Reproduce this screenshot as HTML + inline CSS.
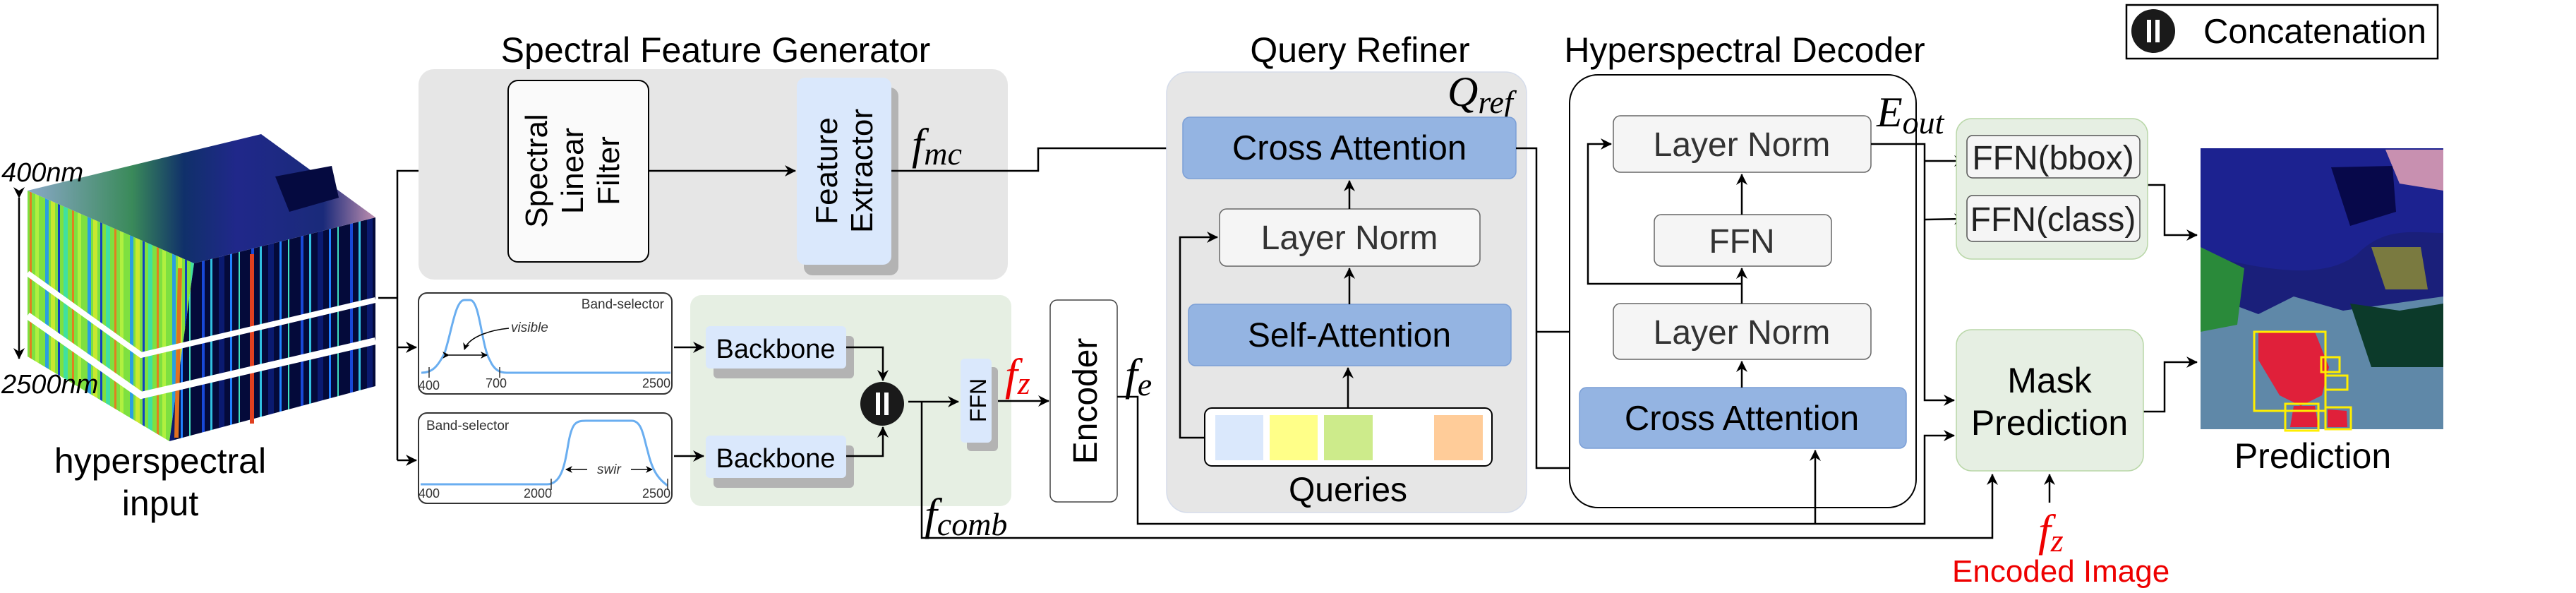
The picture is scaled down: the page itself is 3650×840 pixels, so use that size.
<!DOCTYPE html>
<html><head><meta charset="utf-8"><style>
html,body{margin:0;padding:0;background:#fff;}
svg{display:block;}
text{font-family:"Liberation Sans",sans-serif;}
.s{font-family:"Liberation Serif",serif;font-style:italic;}
</style></head><body>
<svg width="3650" height="840" viewBox="0 0 3650 840" xmlns="http://www.w3.org/2000/svg">
<defs>
<marker id="a" markerWidth="10" markerHeight="10" refX="9" refY="5" orient="auto" markerUnits="userSpaceOnUse"><path d="M0,0 L10,5 L0,10 L3,5 z" fill="#000"/></marker>
<marker id="a2" markerWidth="16" markerHeight="16" refX="15" refY="8" orient="auto" markerUnits="userSpaceOnUse"><path d="M0,0 L16,8 L0,16 L5,8 z" fill="#000"/></marker>
<pattern id="lf" width="60" height="10" patternUnits="userSpaceOnUse">
<rect width="60" height="10" fill="#7ee040"/><rect x="4" width="5" height="10" fill="#2a9fe0"/><rect x="12" width="6" height="10" fill="#c8e830"/><rect x="22" width="3" height="10" fill="#1040c0"/><rect x="30" width="6" height="10" fill="#40e0a0"/><rect x="42" width="3" height="10" fill="#e08020"/><rect x="50" width="5" height="10" fill="#b0f040"/></pattern>
<pattern id="rf" width="70" height="10" patternUnits="userSpaceOnUse">
<rect width="70" height="10" fill="#040a3a"/><rect x="6" width="4" height="10" fill="#1848d8"/><rect x="18" width="3" height="10" fill="#30c0e0"/><rect x="30" width="8" height="10" fill="#0a1a70"/><rect x="46" width="3" height="10" fill="#2080ff"/><rect x="58" width="2" height="10" fill="#40e0c0"/></pattern>
<linearGradient id="tf" x1="0" y1="0" x2="1" y2="0"><stop offset="0" stop-color="#8aa8c8"/><stop offset="0.3" stop-color="#3a8a5a"/><stop offset="0.45" stop-color="#10306a"/><stop offset="0.6" stop-color="#20288a"/><stop offset="0.85" stop-color="#1a2a7a"/><stop offset="1" stop-color="#c090b0"/></linearGradient>
</defs>

<!-- cube -->
<polygon points="39,270 275,373 240,625 39,505" fill="url(#lf)"/>
<polygon points="275,373 532,308 532,547 240,625" fill="url(#rf)"/>
<line x1="357" y1="360" x2="357" y2="600" stroke="#e04020" stroke-width="6"/>
<line x1="255" y1="380" x2="250" y2="620" stroke="#e07020" stroke-width="6"/>
<polygon points="39,270 370,190 532,308 275,373" fill="url(#tf)"/>
<polygon points="390,250 470,235 480,280 410,300" fill="#050a40"/>
<polyline points="39,387 200,503 532,425" fill="none" stroke="#fff" stroke-width="8"/>
<polyline points="39,447 200,560 532,483" fill="none" stroke="#fff" stroke-width="10"/>
<text x="2" y="257" font-size="38" font-style="italic">400nm</text>
<text x="2" y="557" font-size="38" font-style="italic">2500nm</text>
<line x1="27" y1="280" x2="27" y2="508" stroke="#000" stroke-width="2.5" marker-end="url(#a2)" marker-start="url(#a2)" />
<text x="227" y="670" font-size="50" text-anchor="middle">hyperspectral</text>
<text x="227" y="730" font-size="50" text-anchor="middle">input</text>

<!-- splitter -->
<g stroke="#000" stroke-width="2.5" fill="none">
<line x1="536" y1="422" x2="563" y2="422"/>
<polyline points="563,652 563,242 717,242" marker-end="url(#a2)"/>
<line x1="563" y1="492" x2="590" y2="492" marker-end="url(#a2)"/>
<line x1="563" y1="652" x2="590" y2="652" marker-end="url(#a2)"/>
</g>

<!-- titles -->
<text x="1014" y="88" font-size="50" text-anchor="middle">Spectral Feature Generator</text>
<text x="1927" y="88" font-size="50" text-anchor="middle">Query Refiner</text>
<text x="2472" y="88" font-size="50" text-anchor="middle">Hyperspectral Decoder</text>

<!-- SFG -->
<rect x="593" y="98" width="835" height="298" rx="22" fill="#e6e6e6"/>
<rect x="720" y="114" width="199" height="257" rx="14" fill="#fafafa" stroke="#000" stroke-width="2"/>
<text transform="translate(775,242) rotate(-90)" font-size="44" text-anchor="middle">Spectral</text>
<text transform="translate(826,242) rotate(-90)" font-size="44" text-anchor="middle">Linear</text>
<text transform="translate(877,242) rotate(-90)" font-size="44" text-anchor="middle">Filter</text>
<rect x="1139" y="124" width="134" height="266" rx="12" fill="#b3b3b3"/>
<rect x="1129" y="110" width="134" height="265" rx="12" fill="#dae8fc"/>
<text transform="translate(1186,242) rotate(-90)" font-size="44" text-anchor="middle">Feature</text>
<text transform="translate(1236,242) rotate(-90)" font-size="44" text-anchor="middle">Extractor</text>
<g stroke="#000" stroke-width="2.5" fill="none">
<line x1="919" y1="242" x2="1127" y2="242" marker-end="url(#a2)"/>
<polyline points="1263,242 1471,242 1471,210 1674,210" marker-end="url(#a2)"/>
</g>
<text class="s" x="1292" y="225" font-size="62">f<tspan font-size="46" dy="8">mc</tspan></text>

<!-- band selectors -->
<rect x="593" y="415" width="359" height="143" rx="12" fill="#fff" stroke="#333" stroke-width="2"/>
<path d="M597,528 C612,528 620,520 630,500 C640,470 645,425 658,425 L666,425 C680,425 682,490 694,510 C700,524 708,528 718,528 L950,528" fill="none" stroke="#6aaef0" stroke-width="3"/>
<g stroke="#333" stroke-width="1.5"><line x1="608" y1="520" x2="608" y2="535"/><line x1="708" y1="520" x2="708" y2="535"/></g>
<text x="941" y="437" font-size="19" text-anchor="end" fill="#333">Band-selector</text>
<text x="724" y="470" font-size="19" font-style="italic" fill="#333">visible</text>
<path d="M721,465 C700,467 665,475 658,495" fill="none" stroke="#000" stroke-width="1.5" marker-end="url(#a)"/>
<line x1="636" y1="503" x2="690" y2="503" stroke="#000" stroke-width="1.5" marker-end="url(#a)" marker-start="url(#a)"/>
<text x="593" y="552" font-size="18" fill="#333">400</text>
<text x="688" y="549" font-size="18" fill="#333">700</text>
<text x="950" y="549" font-size="18" text-anchor="end" fill="#333">2500</text>

<rect x="593" y="585" width="359" height="128" rx="12" fill="#fff" stroke="#333" stroke-width="2"/>
<path d="M596,686 L775,686 C795,686 800,660 805,630 C810,600 815,596 830,596 L895,596 C910,596 912,620 918,640 C925,670 935,680 946,688" fill="none" stroke="#6aaef0" stroke-width="3"/>
<g stroke="#333" stroke-width="1.5"><line x1="781" y1="678" x2="781" y2="694"/><line x1="946" y1="678" x2="946" y2="694"/></g>
<text x="604" y="609" font-size="19" fill="#333">Band-selector</text>
<text x="846" y="671" font-size="19" font-style="italic" fill="#333">swir</text>
<line x1="832" y1="665" x2="802" y2="665" stroke="#000" stroke-width="1.5" marker-end="url(#a)"/>
<line x1="894" y1="665" x2="924" y2="665" stroke="#000" stroke-width="1.5" marker-end="url(#a)"/>
<text x="593" y="705" font-size="18" fill="#333">400</text>
<text x="762" y="705" font-size="18" text-anchor="middle" fill="#333">2000</text>
<text x="950" y="705" font-size="18" text-anchor="end" fill="#333">2500</text>

<!-- green backbone region -->
<rect x="978" y="418" width="455" height="299" rx="16" fill="#e6efe3"/>
<rect x="1011" y="476" width="199" height="60" rx="6" fill="#b3b3b3"/>
<rect x="1000" y="462" width="199" height="60" rx="6" fill="#dae8fc"/>
<text x="1099" y="507" font-size="38" text-anchor="middle">Backbone</text>
<rect x="1011" y="631" width="199" height="60" rx="6" fill="#b3b3b3"/>
<rect x="1000" y="617" width="199" height="60" rx="6" fill="#dae8fc"/>
<text x="1099" y="662" font-size="38" text-anchor="middle">Backbone</text>
<g stroke="#000" stroke-width="2.5" fill="none">
<line x1="955" y1="492" x2="997" y2="492" marker-end="url(#a2)"/>
<line x1="955" y1="646" x2="997" y2="646" marker-end="url(#a2)"/>
<polyline points="1199,492 1251,492 1251,539" marker-end="url(#a2)"/>
<polyline points="1199,646 1251,646 1251,605" marker-end="url(#a2)"/>
<line x1="1287" y1="569" x2="1358" y2="569" marker-end="url(#a2)"/>
<polyline points="1306,569 1306,762 2823,762 2823,672" marker-end="url(#a2)"/>
<line x1="1405" y1="568" x2="1486" y2="568" marker-end="url(#a2)"/>
</g>
<circle cx="1250" cy="572" r="31" fill="#1a1a1a"/>
<rect x="1241" y="556" width="6" height="32" fill="#fff"/><rect x="1253" y="556" width="6" height="32" fill="#fff"/>
<rect x="1370" y="520" width="44" height="119" rx="6" fill="#b3b3b3"/>
<rect x="1361" y="508" width="44" height="119" rx="6" fill="#dae8fc"/>
<text transform="translate(1397,567) rotate(-90)" font-size="32" text-anchor="middle">FFN</text>
<text class="s" x="1424" y="552" font-size="64" fill="#e00">f<tspan font-size="46" dy="6">z</tspan></text>
<text class="s" x="1310" y="750" font-size="64">f<tspan font-size="46" dy="8">comb</tspan></text>

<!-- encoder -->
<rect x="1488" y="425" width="95" height="286" rx="10" fill="#fff" stroke="#444" stroke-width="1.5"/>
<text transform="translate(1554,568) rotate(-90)" font-size="48" text-anchor="middle">Encoder</text>
<text class="s" x="1594" y="552" font-size="64">f<tspan font-size="46" dy="8">e</tspan></text>

<!-- Query refiner -->
<rect x="1653" y="102" width="510" height="624" rx="30" fill="#e6e6e6" stroke="#d5dcea" stroke-width="1.5"/>
<text class="s" x="2051" y="150" font-size="60">Q<tspan font-size="46" dy="10">ref</tspan></text>
<rect x="1676" y="166" width="472" height="87" rx="10" fill="#94b4e2" stroke="#7b9fd6" stroke-width="1.5"/>
<text x="1912" y="226" font-size="49" text-anchor="middle">Cross Attention</text>
<rect x="1728" y="296" width="369" height="81" rx="10" fill="#f5f5f5" stroke="#666" stroke-width="1.5"/>
<text x="1912" y="353" font-size="48" text-anchor="middle" fill="#333">Layer Norm</text>
<rect x="1684" y="431" width="457" height="87" rx="10" fill="#94b4e2" stroke="#7b9fd6" stroke-width="1.5"/>
<text x="1912" y="491" font-size="48" text-anchor="middle">Self-Attention</text>
<rect x="1707" y="578" width="407" height="82" rx="10" fill="#fff" stroke="#000" stroke-width="2"/>
<rect x="1722" y="588" width="68" height="64" fill="#dae8fc"/>
<rect x="1799" y="588" width="68" height="64" fill="#ffff88"/>
<rect x="1876" y="588" width="69" height="64" fill="#cdeb8b"/>
<rect x="2032" y="588" width="69" height="64" fill="#ffcc99"/>
<text x="1910" y="710" font-size="48" text-anchor="middle">Queries</text>
<g stroke="#000" stroke-width="2.5" fill="none">
<line x1="1912" y1="296" x2="1912" y2="256" marker-end="url(#a2)"/>
<line x1="1912" y1="431" x2="1912" y2="380" marker-end="url(#a2)"/>
<line x1="1910" y1="578" x2="1910" y2="521" marker-end="url(#a2)"/>
<polyline points="1707,620 1672,620 1672,336 1725,336" marker-end="url(#a2)"/>
<polyline points="2148,210 2177,210 2177,663 2468,663 2468,638" marker-end="url(#a2)"/>
<line x1="2352" y1="663" x2="2352" y2="638" marker-end="url(#a2)"/>
<line x1="2177" y1="470" x2="2283" y2="470" marker-end="url(#a2)"/>
</g>

<!-- Decoder -->
<rect x="2224" y="106" width="491" height="613" rx="40" fill="#fff" stroke="#000" stroke-width="2"/>
<rect x="2286" y="164" width="365" height="80" rx="10" fill="#f5f5f5" stroke="#666" stroke-width="1.5"/>
<text x="2468" y="221" font-size="48" text-anchor="middle" fill="#333">Layer Norm</text>
<rect x="2344" y="304" width="251" height="73" rx="10" fill="#f5f5f5" stroke="#666" stroke-width="1.5"/>
<text x="2468" y="358" font-size="48" text-anchor="middle" fill="#333">FFN</text>
<rect x="2286" y="430" width="365" height="79" rx="10" fill="#f5f5f5" stroke="#666" stroke-width="1.5"/>
<text x="2468" y="487" font-size="48" text-anchor="middle" fill="#333">Layer Norm</text>
<rect x="2238" y="549" width="463" height="86" rx="10" fill="#94b4e2" stroke="#7b9fd6" stroke-width="1.5"/>
<text x="2468" y="609" font-size="49" text-anchor="middle">Cross Attention</text>
<text class="s" x="2659" y="179" font-size="60">E<tspan font-size="46" dy="10">out</tspan></text>
<g stroke="#000" stroke-width="2.5" fill="none">
<line x1="2468" y1="549" x2="2468" y2="512" marker-end="url(#a2)"/>
<line x1="2468" y1="430" x2="2468" y2="380" marker-end="url(#a2)"/>
<line x1="2468" y1="304" x2="2468" y2="247" marker-end="url(#a2)"/>
<polyline points="2468,402 2250,402 2250,204 2283,204" marker-end="url(#a2)"/>
<polyline points="2651,204 2727,204 2727,567 2769,567" marker-end="url(#a2)"/>
<line x1="2727" y1="228" x2="2784" y2="228" marker-end="url(#a2)"/>
<line x1="2727" y1="311" x2="2784" y2="310" marker-end="url(#a2)"/>
<polyline points="1583,562 1612,562 1612,742 2727,742 2727,617 2769,617" marker-end="url(#a2)"/>
<line x1="2572" y1="742" x2="2572" y2="638" marker-end="url(#a2)"/>
<line x1="2904" y1="712" x2="2904" y2="672" marker-end="url(#a2)"/>
<polyline points="3043,262 3067,262 3067,333 3113,333" marker-end="url(#a2)"/>
<polyline points="3037,583 3067,583 3067,513 3113,513" marker-end="url(#a2)"/>
</g>

<!-- FFN heads -->
<rect x="2772" y="168" width="271" height="199" rx="22" fill="#e6efe3" stroke="#b9d7a8" stroke-width="1.5"/>
<rect x="2787" y="192" width="245" height="60" rx="8" fill="#f5f5f5" stroke="#555" stroke-width="1.5"/>
<text x="2909" y="240" font-size="48" text-anchor="middle" fill="#222">FFN(bbox)</text>
<rect x="2787" y="277" width="245" height="65" rx="8" fill="#f5f5f5" stroke="#555" stroke-width="1.5"/>
<text x="2909" y="327" font-size="48" text-anchor="middle" fill="#222">FFN(class)</text>
<rect x="2772" y="467" width="265" height="200" rx="22" fill="#e6efe3" stroke="#b9d7a8" stroke-width="1.5"/>
<text x="2904" y="556" font-size="50" text-anchor="middle">Mask</text>
<text x="2904" y="616" font-size="50" text-anchor="middle">Prediction</text>
<text class="s" x="2888" y="773" font-size="64" fill="#e00">f<tspan font-size="46" dy="8">z</tspan></text>
<text x="2766" y="824" font-size="44" fill="#e00">Encoded Image</text>

<!-- legend -->
<rect x="3013" y="7" width="441" height="76" fill="#fff" stroke="#000" stroke-width="2.5"/>
<circle cx="3051" cy="44" r="31" fill="#1a1a1a"/>
<rect x="3042" y="28" width="6" height="32" fill="#fff"/><rect x="3054" y="28" width="6" height="32" fill="#fff"/>
<text x="3122" y="61" font-size="49">Concatenation</text>

<!-- prediction image -->
<rect x="3118" y="210" width="344" height="398" fill="#1a1f7a"/>
<path d="M3118,210 L3462,210 L3462,330 C3420,330 3380,320 3340,360 C3290,400 3200,380 3118,360 Z" fill="#1c2290"/>
<path d="M3303,237 L3390,235 L3395,300 L3330,320 Z" fill="#07084a"/>
<path d="M3380,212 L3462,212 L3462,270 L3400,260 Z" fill="#c890b0"/>
<path d="M3118,440 L3160,430 L3200,445 L3250,420 L3320,440 L3462,420 L3462,608 L3118,608 Z" fill="#5f88a8"/>
<path d="M3118,350 L3180,380 L3170,460 L3118,470 Z" fill="#2a8a3a"/>
<path d="M3360,350 L3430,350 L3440,410 L3380,410 Z" fill="#7a7a40"/>
<path d="M3330,430 L3400,440 L3462,430 L3462,520 L3360,520 Z" fill="#0c3a2a"/>
<path d="M3200,470 L3280,470 L3300,520 L3290,560 L3260,575 L3230,560 L3200,510 Z" fill="#e0203a"/>
<path d="M3250,575 L3280,575 L3285,605 L3245,605 Z" fill="#e0203a"/>
<path d="M3298,580 L3325,582 L3326,605 L3298,605 Z" fill="#e0203a"/>
<g fill="none" stroke="#ffee00" stroke-width="3">
<rect x="3194" y="470" width="101" height="112"/>
<rect x="3289" y="506" width="26" height="21"/>
<rect x="3295" y="532" width="31" height="20"/>
<rect x="3238" y="572" width="47" height="38"/>
<rect x="3295" y="577" width="36" height="31"/>
</g>
<text x="3277" y="663" font-size="50" text-anchor="middle">Prediction</text>
</svg>
</body></html>
